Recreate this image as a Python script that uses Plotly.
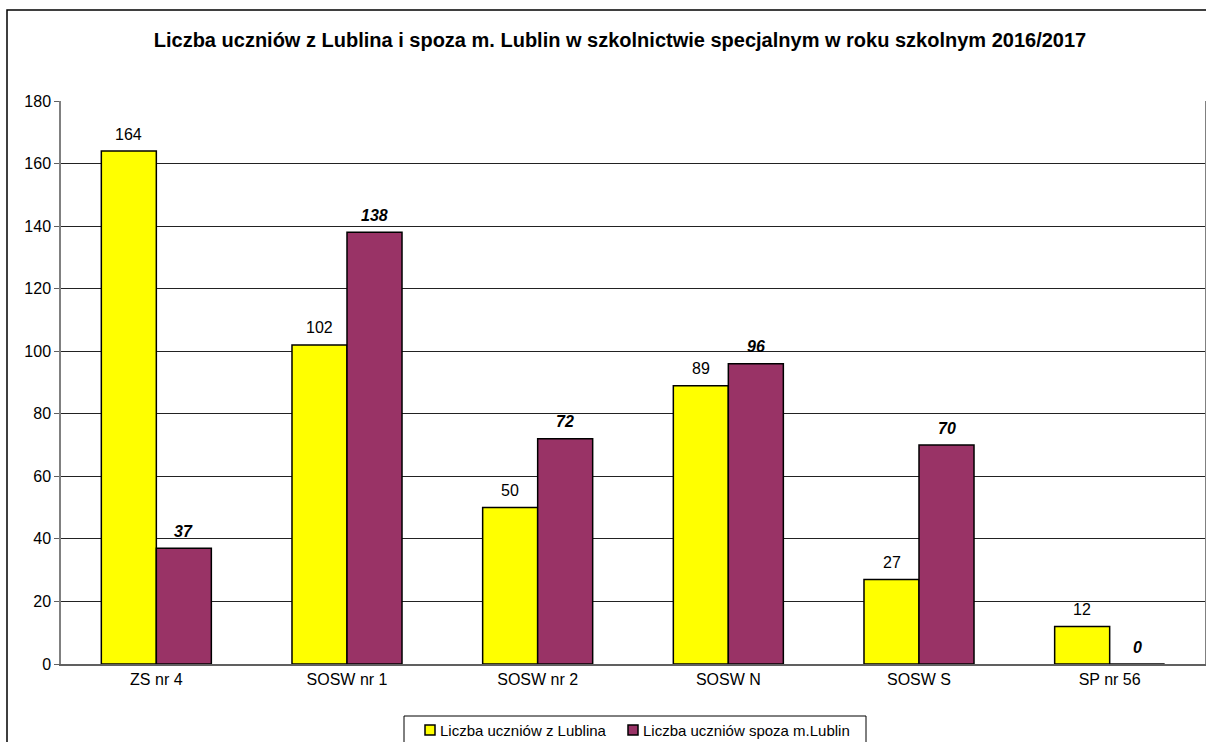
import plotly.graph_objects as go

# data
schools = ["ZS nr 4", "SOSW nr 1", "SOSW nr 2", "SOSW N", "SOSW S", "SP nr 56"]
from_lublin = [164, 102, 50, 89, 27, 12]
outside_lublin = [37, 138, 72, 96, 70, 0]
y_ticks = [0, 20, 40, 60, 80, 100, 120, 140, 160, 180]
series_names = ["Liczba uczniów z Lublina", "Liczba uczniów spoza m.Lublin"]

TITLE = "Liczba uczniów z Lublina i spoza m. Lublin w szkolnictwie specjalnym w roku szkolnym 2016/2017"
FONT = "Liberation Sans, Arial, sans-serif"
YELLOW = "#FFFF00"
MAROON = "#993366"
COLORS = [YELLOW, MAROON]

# plot area in pixels (left, right, top, bottom)
PL, PR, PT, PB = 61, 1205, 101, 664


def px_x(px):
    return (px - PL) / (PR - PL)


def px_y(py):
    return (PB - py) / (PB - PT)


fig = go.Figure()
for name, vals, col in zip(series_names, [from_lublin, outside_lublin], COLORS):
    fig.add_trace(go.Bar(
        x=schools, y=vals, name=name,
        marker=dict(color=col, line=dict(color="#000000", width=1.5)),
    ))

# value labels above the bars
annotations = []
for s, v in zip(schools, from_lublin):
    annotations.append(dict(
        x=s, y=v, xref="x", yref="y", text=str(v), showarrow=False,
        xshift=-27.5, yshift=17, yanchor="middle",
        font=dict(family=FONT, size=16, color="#000000"),
    ))
for s, v in zip(schools, outside_lublin):
    annotations.append(dict(
        x=s, y=v, xref="x", yref="y", text=f"<b><i>{v}</i></b>", showarrow=False,
        xshift=27.5, yshift=17, yanchor="middle",
        font=dict(family=FONT, size=16, color="#000000"),
    ))

# hand-drawn legend (small square swatches like the original)
shapes = [
    dict(type="rect", xref="paper", yref="paper",
         x0=px_x(7), x1=1.2, y0=-0.3, y1=px_y(10),
         line=dict(color="#000000", width=1.5), layer="below"),
    dict(type="rect", xref="paper", yref="paper",
         x0=px_x(404), x1=px_x(866), y0=-0.3, y1=px_y(716),
         line=dict(color="#000000", width=1), fillcolor="#FFFFFF", layer="below"),
]
for name, col, sx in zip(series_names, COLORS, [425, 628]):
    shapes.append(dict(
        type="rect", xref="paper", yref="paper",
        x0=px_x(sx), x1=px_x(sx + 10), y0=px_y(735), y1=px_y(725),
        line=dict(color="#000000", width=1.5), fillcolor=col,
    ))
    annotations.append(dict(
        x=px_x(sx + 13), y=px_y(730), xref="paper", yref="paper",
        text=name, showarrow=False, xanchor="left", yanchor="middle",
        font=dict(family=FONT, size=15, color="#000000"),
    ))

fig.update_layout(
    width=1206, height=742,
    margin=dict(l=PL, r=1206 - PR, t=PT, b=742 - PB),
    paper_bgcolor="#FFFFFF", plot_bgcolor="#FFFFFF",
    font=dict(family=FONT, size=16, color="#000000"),
    title=dict(
        text=f"<b>{TITLE}</b>", x=620 / 1206, xanchor="center",
        y=1 - 40 / 742, yanchor="middle", yref="container",
        font=dict(family=FONT, size=20, color="#000000"),
    ),
    barmode="group", bargap=0.423, bargroupgap=0,
    showlegend=False,
    annotations=annotations,
    shapes=shapes,
)

fig.update_xaxes(
    showline=True, linecolor="#606060", linewidth=1.5,
    showgrid=False, ticks="", tickfont=dict(size=16), automargin=False,
)
fig.update_yaxes(
    range=[0, 180], tickvals=y_ticks, showgrid=True, gridcolor="#222222", gridwidth=1,
    showline=True, linecolor="#808080", linewidth=1.5, mirror=True,
    ticks="outside", ticklen=5, tickcolor="#606060", tickfont=dict(size=16),
    zeroline=False, automargin=False,
)

fig.write_html(
    "out.html",
    config={"displayModeBar": False},
    post_script="document.body.style.margin='0';",
)
